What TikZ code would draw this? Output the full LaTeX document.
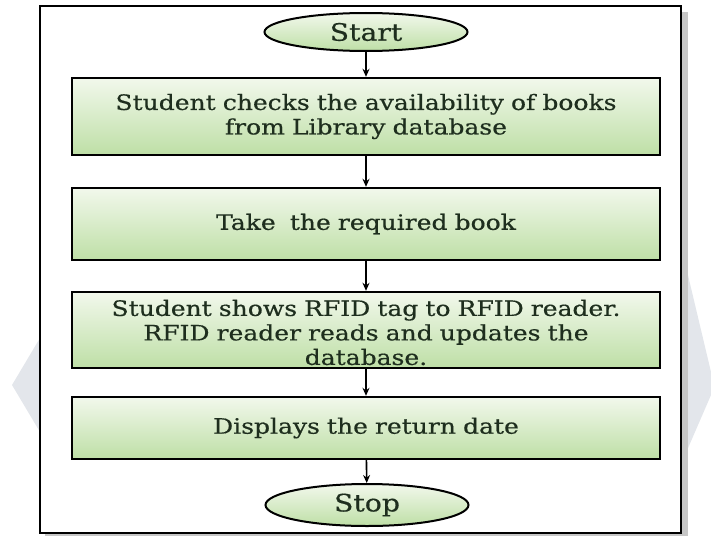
\documentclass[tikz,border=0pt]{standalone}
\usepackage{fontspec}
\setmainfont{DejaVu Serif}[FakeStretch=1.18,FakeBold=0.5]
\usetikzlibrary{shapes.geometric,arrows.meta}
\definecolor{boxtop}{HTML}{F2F8EC}
\definecolor{boxbot}{HTML}{BEDFA6}
\definecolor{txt}{HTML}{1E2E1E}
\definecolor{wm}{HTML}{E3E6EB}
\begin{document}
\begin{tikzpicture}[x=1pt,y=-1pt,
  boxtext/.style={text width=580pt, align=center, inner sep=0pt,
    font=\fontsize{21.2}{24.5}\selectfont, text=txt},
  procbox/.style={boxtext, draw=black, line width=2.4pt, top color=boxtop, bottom color=boxbot,
    minimum width=588pt},
  term/.style={ellipse, draw=black, line width=2pt, top color=boxtop, bottom color=boxbot,
    minimum width=203pt, minimum height=38pt, inner sep=0pt,
    font=\fontsize{24}{24}\selectfont, text=txt},
  flow/.style={-{Stealth[length=8pt,width=7pt]}, line width=1.6pt}]
\useasboundingbox (0,0) rectangle (711,535);
% watermark remnants
\fill[wm] (40,338) -- (12,385) -- (40,432) -- cycle;
\fill[wm] (682,250) -- (711,372) -- (711,395) -- (682,462) -- cycle;
% frame with shadow
\fill[gray!45] (45,12) rectangle (688,540);
\fill[white] (40,6) rectangle (681,533);
\draw[line width=1.5pt] (40,6) rectangle (681,533);
% nodes
\node[term] (start) at (366,32) {Start};
\node[procbox, minimum height=77pt] (b1) at (366,116.5)
  {Student checks the availability of books\\ from Library database};
\node[procbox, minimum height=72pt] (b2) at (366,224) {Take\ \ the required book};
\node[procbox, minimum height=76pt] (b3) at (366,330) {};
\node[boxtext] (b3t) at (366,332.5)
  {Student shows RFID tag to RFID reader.\\ RFID reader reads and updates the\\ database.};
\node[procbox, minimum height=62pt] (b4) at (366,428) {Displays the return date};
\node[term, minimum height=42pt] (stop) at (367,505) {Stop};
% connectors
\draw[flow] (start) -- (b1);
\draw[flow] (b1) -- (b2);
\draw[flow] (b2) -- (b3);
\draw[flow] (b3) -- (b4);
\draw[flow] (b4) -- (stop);
\end{tikzpicture}
\end{document}
